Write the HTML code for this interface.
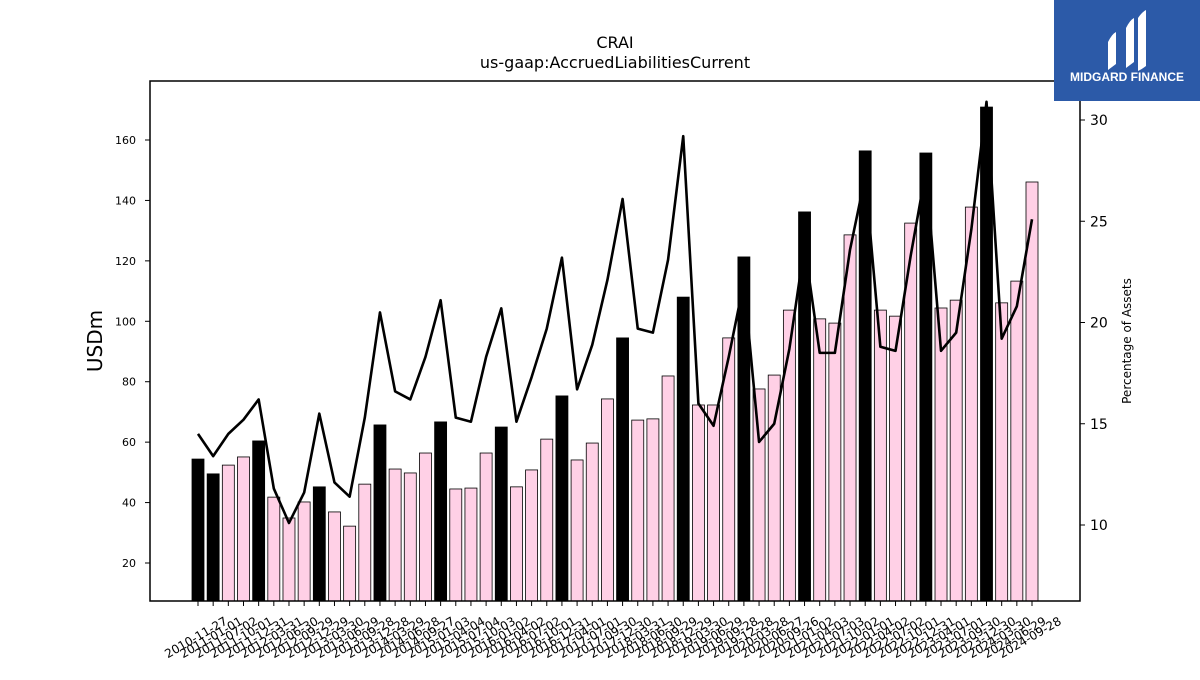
<!DOCTYPE html>
<html><head><meta charset="utf-8"><style>
body{margin:0;background:#fff;font-family:"Liberation Sans","DejaVu Sans",sans-serif;}
</style></head><body>
<svg id="chart" width="1200" height="675" xmlns="http://www.w3.org/2000/svg" font-family="DejaVu Sans, Liberation Sans, sans-serif">
<text x="615" y="48" text-anchor="middle" font-size="16">CRAI</text>
<text x="615" y="68" text-anchor="middle" font-size="16">us-gaap:AccruedLiabilitiesCurrent</text>
<g id="bars"></g><g id="line"></g><g id="axes"></g>
<rect x="150" y="81" width="930" height="520" fill="none" stroke="#000" stroke-width="1.5"/>
<text transform="translate(102,341) rotate(-90)" text-anchor="middle" font-size="20">USDm</text>
<text transform="translate(1131,341) rotate(-90)" text-anchor="middle" font-size="12">Percentage of Assets</text>
<g>
<rect x="1054" y="0" width="146" height="101" fill="#2c5aa8"/>
<path d="M1108 42 q4-8 8-10 v32 q-4 3-8 6z M1126 28 q4-8 8-10 v44 q-4 3-8 6z M1138 18 q4-6 8-8 v56 q-4 3-8 5z" fill="#fff"/>
<text x="1127" y="81" text-anchor="middle" font-size="12" font-weight="bold" fill="#fff" font-family="Liberation Sans, sans-serif">MIDGARD FINANCE</text>
</g>
</svg>
<script>
const dates=["2010-11-27","2011-01-01","2011-07-02","2011-10-01","2011-12-31","2012-03-31","2012-06-30","2012-09-29","2012-12-29","2013-03-30","2013-06-29","2013-09-28","2013-12-28","2014-03-29","2014-06-28","2014-09-27","2015-01-03","2015-04-04","2015-07-04","2015-10-03","2016-01-02","2016-04-02","2016-07-02","2016-10-01","2016-12-31","2017-04-01","2017-07-01","2017-09-30","2017-12-30","2018-03-31","2018-06-30","2018-09-29","2018-12-29","2019-03-30","2019-06-29","2019-09-28","2019-12-28","2020-03-28","2020-06-27","2020-09-26","2021-01-02","2021-04-03","2021-07-03","2021-10-02","2022-01-01","2022-04-02","2022-07-02","2022-10-01","2022-12-31","2023-04-01","2023-07-01","2023-09-30","2023-12-30","2024-03-30","2024-06-29","2024-09-28"];
const usdValues=[54.4,49.5,52.4,55.1,60.4,41.8,34.9,40.2,45.2,36.9,32.2,46.1,65.7,51.1,49.8,56.4,66.7,44.5,44.8,56.4,65.0,45.2,50.8,61.0,75.3,54.1,59.7,74.3,94.5,67.3,67.7,81.9,108.0,72.3,72.3,94.5,121.3,77.6,82.2,103.7,136.2,100.8,99.4,128.6,156.4,103.7,101.7,132.5,155.7,104.4,107.0,137.8,170.9,106.1,113.3,146.1];
const pctValues=[14.5,13.4,14.5,15.2,16.2,11.8,10.1,11.6,15.5,12.1,11.4,15.3,20.5,16.6,16.2,18.3,21.1,15.3,15.1,18.3,20.7,15.1,17.3,19.7,23.2,16.7,18.9,22.1,26.1,19.7,19.5,23.1,29.2,16.0,14.9,18.3,22.0,14.1,15.0,18.7,23.8,18.5,18.5,23.6,27.2,18.8,18.6,23.3,27.5,18.6,19.5,24.6,30.9,19.2,20.8,25.1];
const yearEnd=[1,1,0,0,1,0,0,0,1,0,0,0,1,0,0,0,1,0,0,0,1,0,0,0,1,0,0,0,1,0,0,0,1,0,0,0,1,0,0,0,1,0,0,0,1,0,0,0,1,0,0,0,1,0,0,0];
const leftTicks=[20,40,60,80,100,120,140,160];
const rightTicks=[10,15,20,25,30];
const NS="http://www.w3.org/2000/svg";
const x=i=>198+i*(1032-198)/(dates.length-1);
const yL=v=>563-(v-20)*3.0214;
const yR=p=>525-(p-10)*20.25;
const bottom=601;
const bars=document.getElementById('bars'),line=document.getElementById('line'),axes=document.getElementById('axes');
function mk(tag,attrs,parent){const e=document.createElementNS(NS,tag);for(const k in attrs)e.setAttribute(k,attrs[k]);parent.appendChild(e);return e;}
usdValues.forEach((v,i)=>{
 const r=mk('rect',{x:x(i)-6,y:yL(v),width:12,height:bottom-yL(v),fill:yearEnd[i]?'#000':'#ffd0e6',stroke:'#000','stroke-width':0.8},bars);
 
 
});
const pts=pctValues.map((p,i)=>x(i)+','+yR(p)).join(' ');
const pl=mk('polyline',{points:pts,fill:'none',stroke:'#000','stroke-width':2.6,'stroke-linejoin':'round'},line);


leftTicks.forEach(t=>{
 mk('line',{x1:145,x2:150,y1:yL(t),y2:yL(t),stroke:'#000'},axes);
 const tx=mk('text',{x:136,y:yL(t)+4,'text-anchor':'end','font-size':11},axes);tx.textContent=t;
 
 
});
rightTicks.forEach(t=>{
 mk('line',{x1:1080,x2:1085,y1:yR(t),y2:yR(t),stroke:'#000'},axes);
 const tx=mk('text',{x:1090,y:yR(t)+5,'font-size':14},axes);tx.textContent=t;
 
 
});
dates.forEach((d,i)=>{
 mk('line',{x1:x(i),x2:x(i),y1:601,y2:606,stroke:'#000'},axes);
 const tx=mk('text',{transform:`translate(${x(i)},641) rotate(-30)`,'text-anchor':'middle','font-size':12},axes);tx.textContent=d;
 
 
});
</script>
</body></html>
